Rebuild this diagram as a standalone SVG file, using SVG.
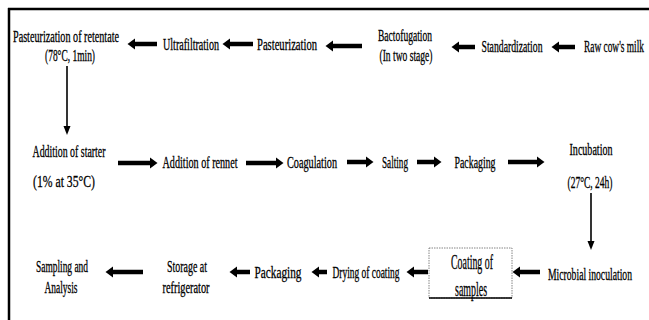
<svg xmlns="http://www.w3.org/2000/svg" width="649" height="320" viewBox="0 0 649 320">
<style>
text{font-family:"Liberation Serif","Times New Roman",serif;font-size:17px;fill:#000;stroke:#000;stroke-width:0.3;text-anchor:middle}
.big{font-size:21px}
.ar{stroke:#000;stroke-width:4.5;fill:none;marker-end:url(#ah)}
.vr{stroke:#000;stroke-width:1.6;fill:none;marker-end:url(#vh)}
</style>
<defs>
<marker id="ah" markerUnits="userSpaceOnUse" markerWidth="8" markerHeight="12" refX="0" refY="6" orient="auto"><path d="M0,0.5 L7.5,6 L0,11.5 Z" fill="#000"/></marker>
<marker id="vh" markerUnits="userSpaceOnUse" markerWidth="10" markerHeight="8" refX="0" refY="3.5" orient="auto"><path d="M0,0 L9,3.5 L0,7 Z" fill="#000"/></marker>
</defs>
<rect width="649" height="320" fill="#fff"/>
<g id="frame" stroke="#000" stroke-width="2.5">
<line x1="8" y1="9" x2="649" y2="9"/>
<line x1="9" y1="8" x2="9" y2="320"/>
</g>
<g id="connectors">
<line class="ar" x1="157" y1="44" x2="135" y2="44"/>
<line class="ar" x1="253" y1="44" x2="230" y2="44"/>
<line class="ar" x1="362" y1="46" x2="333" y2="46"/>
<line class="ar" x1="475" y1="47" x2="459" y2="47"/>
<line class="ar" x1="575" y1="47" x2="559" y2="47"/>
<line class="ar" x1="118" y1="163" x2="150" y2="163"/>
<line class="ar" x1="246" y1="163" x2="276" y2="163"/>
<line class="ar" x1="347" y1="162" x2="366" y2="162"/>
<line class="ar" x1="417" y1="162" x2="434" y2="162"/>
<line class="ar" x1="508" y1="162" x2="537" y2="162"/>
<line class="ar" x1="540" y1="272" x2="520" y2="272"/>
<line class="ar" x1="428" y1="272" x2="414" y2="272"/>
<line class="ar" x1="327" y1="272" x2="319" y2="272"/>
<line class="ar" x1="250" y1="272" x2="237" y2="272"/>
<line class="ar" x1="143" y1="272" x2="113" y2="272"/>
<line class="vr" x1="67" y1="66" x2="67" y2="126"/>
<line class="vr" x1="591" y1="193" x2="591" y2="241"/>
</g>
<g id="n1"><text transform="translate(66,42) scale(0.56,1)" textLength="189.3" lengthAdjust="spacingAndGlyphs">Pasteurization of retentate</text><text transform="translate(70,61) scale(0.56,1)" textLength="89.3" lengthAdjust="spacingAndGlyphs">(78°C, 1min)</text></g>
<g id="n2"><text transform="translate(191,50) scale(0.56,1)" textLength="100" lengthAdjust="spacingAndGlyphs">Ultrafiltration</text></g>
<g id="n3"><text transform="translate(287,50) scale(0.56,1)" textLength="107.1" lengthAdjust="spacingAndGlyphs">Pasteurization</text></g>
<g id="n4"><text transform="translate(405,41) scale(0.56,1)" textLength="96.4" lengthAdjust="spacingAndGlyphs">Bactofugation</text><text transform="translate(406,61) scale(0.56,1)" textLength="94.6" lengthAdjust="spacingAndGlyphs">(In two stage)</text></g>
<g id="n5"><text transform="translate(512,52) scale(0.56,1)" textLength="108.9" lengthAdjust="spacingAndGlyphs">Standardization</text></g>
<g id="n6"><text transform="translate(614,52) scale(0.56,1)" textLength="107.1" lengthAdjust="spacingAndGlyphs">Raw cow's milk</text></g>
<g id="n7"><text transform="translate(69,157) scale(0.56,1)" textLength="130.4" lengthAdjust="spacingAndGlyphs">Addition of starter</text><text transform="translate(64,187) scale(0.56,1)" textLength="110.7" lengthAdjust="spacingAndGlyphs">(1% at 35°C)</text></g>
<g id="n8"><text transform="translate(200,168) scale(0.56,1)" textLength="133.9" lengthAdjust="spacingAndGlyphs">Addition of rennet</text></g>
<g id="n9"><text transform="translate(312,168) scale(0.56,1)" textLength="89.3" lengthAdjust="spacingAndGlyphs">Coagulation</text></g>
<g id="n10"><text transform="translate(395,168) scale(0.56,1)" textLength="46.4" lengthAdjust="spacingAndGlyphs">Salting</text></g>
<g id="n11"><text transform="translate(475,168) scale(0.56,1)" textLength="73.2" lengthAdjust="spacingAndGlyphs">Packaging</text></g>
<g id="n12"><text transform="translate(591,155) scale(0.56,1)" textLength="76.8" lengthAdjust="spacingAndGlyphs">Incubation</text><text transform="translate(590,188) scale(0.56,1)" textLength="80.4" lengthAdjust="spacingAndGlyphs">(27°C, 24h)</text></g>
<g id="n13"><text transform="translate(590,280) scale(0.56,1)" textLength="150" lengthAdjust="spacingAndGlyphs">Microbial inoculation</text></g>
<g id="n14"><rect x="429" y="248" width="83" height="50" fill="#fff" stroke="#666" stroke-width="0.8" stroke-dasharray="1.5,1"/><line x1="429" y1="298" x2="512" y2="298" stroke="#000" stroke-width="1.3"/><text class="big" transform="translate(472,269) scale(0.56,1)" textLength="75" lengthAdjust="spacingAndGlyphs">Coating of</text><text class="big" transform="translate(471,296) scale(0.56,1)" textLength="57.1" lengthAdjust="spacingAndGlyphs">samples</text></g>
<g id="n15"><text transform="translate(366,278) scale(0.56,1)" textLength="119.6" lengthAdjust="spacingAndGlyphs">Drying of coating</text></g>
<g id="n16"><text transform="translate(278,278) scale(0.56,1)" textLength="83.9" lengthAdjust="spacingAndGlyphs">Packaging</text></g>
<g id="n17"><text transform="translate(187,272) scale(0.56,1)" textLength="71.4" lengthAdjust="spacingAndGlyphs">Storage at</text><text transform="translate(186,293) scale(0.56,1)" textLength="83.9" lengthAdjust="spacingAndGlyphs">refrigerator</text></g>
<g id="n18"><text transform="translate(62,272) scale(0.56,1)" textLength="92.9" lengthAdjust="spacingAndGlyphs">Sampling and</text><text transform="translate(61,293) scale(0.56,1)" textLength="58.9" lengthAdjust="spacingAndGlyphs">Analysis</text></g>
</svg>
